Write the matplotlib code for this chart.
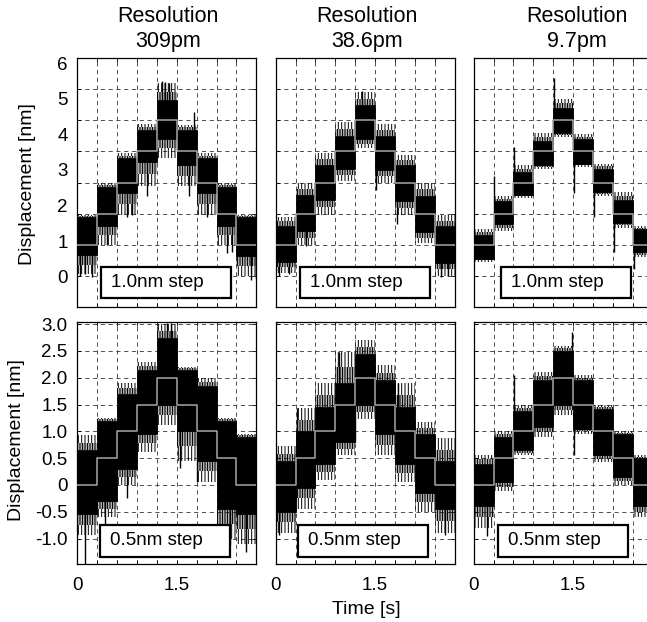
import matplotlib
matplotlib.use('Agg')
import matplotlib.pyplot as plt
from matplotlib.patches import Rectangle
import numpy as np

plt.rcParams['font.family'] = ['Liberation Sans', 'DejaVu Sans']
plt.rcParams['lines.scale_dashes'] = False
plt.rcParams['hatch.linewidth'] = 0.7

# ---------------- data ----------------
resolutions = ['309pm', '38.6pm', '9.7pm']
step_labels = ['1.0nm step', '0.5nm step']
step_dur = 0.3
levels_top = [1, 2, 3, 4, 5, 4, 3, 2, 1]
levels_bot = [0, 0.5, 1, 1.5, 2, 1.5, 1, 0.5, 0]

ytick_top_labels = ['0', '1', '2', '3', '4', '5', '6']
ytick_bot_values = [-1.0, -0.5, 0, 0.5, 1.0, 1.5, 2.0, 2.5, 3.0]
ytick_bot_labels = ['-1.0', '-0.5', '0', '0.5', '1.0', '1.5', '2.0', '2.5', '3.0']
xtick_labels = {0.0: '0', 1.5: '1.5'}

# dense noise band (core) and fainter fringe per step, row 0 = 1.0nm, row 1 = 0.5nm
core_lo = [
    [[0.65, 1.60, 2.65, 3.65, 4.40, 3.55, 2.65, 1.60, 0.62],
     [0.45, 1.45, 2.45, 3.45, 4.40, 3.40, 2.40, 1.40, 0.40],
     [0.55, 1.65, 2.60, 3.55, 4.60, 3.60, 2.70, 1.70, 0.75]],
    [[-0.55, -0.30, 0.30, 0.95, 1.50, 1.00, 0.45, -0.45, -0.55],
     [-0.50, -0.05, 0.40, 0.80, 1.50, 0.95, 0.40, -0.15, -0.45],
     [-0.40, 0.05, 0.65, 1.08, 1.50, 1.05, 0.55, 0.15, -0.40]],
]
core_hi = [
    [[1.88, 2.85, 3.78, 4.70, 5.65, 4.70, 3.78, 2.85, 1.90],
     [1.60, 2.60, 3.55, 4.50, 5.50, 4.50, 3.55, 2.55, 1.60],
     [1.30, 2.40, 3.35, 4.35, 5.40, 4.40, 3.45, 2.45, 1.50]],
    [[0.65, 1.20, 1.70, 2.15, 2.75, 2.15, 1.85, 1.20, 0.90],
     [0.45, 1.00, 1.45, 1.90, 2.45, 1.95, 1.45, 0.95, 0.45],
     [0.40, 0.90, 1.38, 1.95, 2.50, 1.95, 1.42, 0.95, 0.50]],
]
fringe_lo = [
    [[0.05, 1.00, 1.95, 2.90, 3.80, 2.90, 1.95, 1.00, 0.00],
     [0.10, 1.00, 1.95, 3.05, 4.10, 3.00, 1.95, 1.05, 0.00],
     [0.45, 1.45, 2.50, 3.45, 4.45, 3.50, 2.55, 1.55, 0.60]],
    [[-0.93, -0.60, 0.00, 0.62, 1.12, 0.45, 0.06, -1.00, -1.10],
     [-0.90, -0.44, 0.09, 0.56, 1.24, 0.56, 0.06, -0.50, -0.90],
     [-0.80, -0.12, 0.55, 0.90, 1.30, 0.95, 0.42, 0.00, -0.60]],
]
fringe_hi = [
    [[1.95, 3.00, 3.95, 4.90, 6.20, 4.85, 3.95, 3.00, 1.95],
     [1.90, 3.00, 3.95, 4.95, 5.90, 4.90, 3.90, 3.00, 1.95],
     [1.50, 2.55, 3.55, 4.60, 5.70, 4.55, 3.60, 2.70, 1.60]],
    [[0.93, 1.25, 1.90, 2.30, 3.00, 2.20, 2.00, 1.25, 0.96],
     [0.72, 1.43, 1.90, 2.49, 2.70, 2.24, 1.90, 1.18, 0.87],
     [0.56, 1.00, 1.50, 2.10, 2.60, 2.05, 1.50, 1.00, 0.56]],
]
# isolated spikes (time, extreme value)
spike_t = [
    [[0.04, 0.12, 0.22, 0.45, 0.75, 0.82, 1.05, 1.28, 1.33, 1.38, 1.68, 1.76, 1.96, 2.26, 2.34, 2.62, 2.69],
     [0.05, 0.20, 0.45, 1.30, 1.52, 1.83, 2.50, 2.60],
     [0.31, 0.61, 1.21, 1.52, 1.82, 2.12, 2.42]],
    [[0.12, 0.42, 0.75, 1.35, 1.42, 1.55, 1.80, 2.30, 2.55],
     [0.05, 0.32, 0.95, 1.20, 1.85, 2.55],
     [0.20, 0.61, 1.48, 1.52]],
]
spike_y = [
    [[0.00, 0.05, -0.05, 1.00, 1.90, 1.95, 2.55, 6.28, 6.25, 6.20, 2.55, 5.28, 1.90, 0.73, 0.75, -0.13, -0.10],
     [0.00, 0.05, 0.95, 5.95, 2.75, 1.65, -0.05, 0.00],
     [3.20, 4.15, 6.35, 2.65, 1.90, 0.75, 0.20]],
    [[-1.48, -0.95, -0.25, 3.03, 3.03, 0.31, 0.06, -1.12, -1.25],
     [-0.93, 1.43, 2.49, 0.80, 1.90, -0.93],
     [-0.95, 2.05, 2.85, 0.55]],
]

# ---------------- layout ----------------
W, H = 647, 622
fig = plt.figure(figsize=(W / 100, H / 100), dpi=100)
col_left = [77.3, 275.7, 473.7]
ax_w = 179.0
row_top = [58.3, 322.3]
row_bot = [306.7, 564.3]
box_left = [[0.131, 0.136, 0.150], [0.127, 0.125, 0.134]]
box_y = [(0.036, 0.125), (0.031, 0.131)]

title_x = [168, 367, 577]

n_steps = len(levels_top)
edges = np.arange(n_steps + 1) * step_dur


def ext(a):
    a = list(a)
    return np.array(a + [a[-1]], dtype=float)


for r in range(2):
    levels = levels_top if r == 0 else levels_bot
    for c in range(3):
        ax = fig.add_axes([col_left[c] / W, 1 - row_bot[r] / H, ax_w / W,
                           (row_bot[r] - row_top[r]) / H])
        ax.set_axisbelow(True)
        clo, chi = ext(core_lo[r][c]), ext(core_hi[r][c])
        flo, fhi = ext(fringe_lo[r][c]), ext(fringe_hi[r][c])
        mlo = clo + 0.5 * (flo - clo)
        mhi = chi + 0.5 * (fhi - chi)
        # outer fringe: sparse excursions
        for a, b in ((flo, mlo), (mhi, fhi)):
            ax.fill_between(edges, a, b, step='post', facecolor='none',
                            edgecolor='black', hatch='|||||', linewidth=0, zorder=2)
        # inner fringe: dense excursions
        for a, b in ((mlo, clo), (chi, mhi)):
            ax.fill_between(edges, a, b, step='post', facecolor='none',
                            edgecolor='black', hatch='||||||||||', linewidth=0, zorder=2)
        # dense core
        ax.fill_between(edges, clo, chi, step='post',
                        facecolor='black', edgecolor='black', linewidth=0.6, zorder=2.1)
        # spikes
        st = np.array(spike_t[r][c])
        idx = np.minimum((st / step_dur).astype(int), n_steps - 1)
        base = np.array(levels, dtype=float)[idx]
        ax.vlines(st, base, spike_y[r][c], color='black', linewidth=1.0, zorder=2.2)
        # staircase reference
        ax.step(edges, ext(levels), where='post', color='#a6a6a6', linewidth=1.1, zorder=3)

        ax.set_xlim(0, 2.7)
        xt = np.round(np.arange(0, 2.71, 0.3), 2)
        ax.set_xticks(xt)
        if r == 1:
            ax.set_xticklabels([xtick_labels.get(float(v), '') for v in xt])
        else:
            ax.set_xticklabels([])
        if r == 0:
            ax.set_ylim(-1, 7)
            ax.set_yticks(range(0, 7))
            ax.set_yticklabels([])
            if c == 0:
                pos = [k * 1.145 - 0.03 for k in range(len(ytick_top_labels))]
                ax.set_yticks(pos, minor=True)
                ax.set_yticklabels(ytick_top_labels, minor=True)
        else:
            ax.set_ylim(-1.48, 3.035)
            ax.set_yticks(ytick_bot_values)
            if c == 0:
                ax.set_yticklabels(ytick_bot_labels)
            else:
                ax.set_yticklabels([])
        ax.tick_params(which='major', direction='in', length=3, width=0.6,
                       top=True, right=True, labelsize=13.5, pad=7, colors='black')
        ax.tick_params(which='minor', length=0, labelsize=13.5, pad=7)
        ax.tick_params(axis='x', pad=9)
        ax.grid(True, which='major', color='#333333', linewidth=0.6,
                linestyle=(0, (3, 2.6)))
        for s in ax.spines.values():
            s.set_linewidth(0.9)
            s.set_color('black')

        # label box
        by, bh = box_y[r]
        ax.add_patch(Rectangle((box_left[r][c], by), 0.728, bh, transform=ax.transAxes,
                               facecolor='white', edgecolor='black', linewidth=1.6,
                               zorder=5, clip_on=False))
        ax.text(box_left[r][c] + 0.058, by + bh / 2, step_labels[r], transform=ax.transAxes,
                ha='left', va='center', fontsize=13.5, zorder=6)

# titles
for c in range(3):
    fig.text(title_x[c] / W, 1 - 29 / H, 'Resolution\n' + resolutions[c], ha='center',
             va='center', fontsize=15.5, linespacing=1.2)

fig.text(27 / W, 1 - 184 / H, 'Displacement [nm]', rotation=90, ha='center',
         va='center', fontsize=14)
fig.text(17 / W, 1 - 440 / H, 'Displacement [nm]', rotation=90, ha='center',
         va='center', fontsize=14)
fig.text(366 / W, 1 - 609 / H, 'Time [s]', ha='center', va='center', fontsize=14)

fig.savefig('out.png', dpi=100)
